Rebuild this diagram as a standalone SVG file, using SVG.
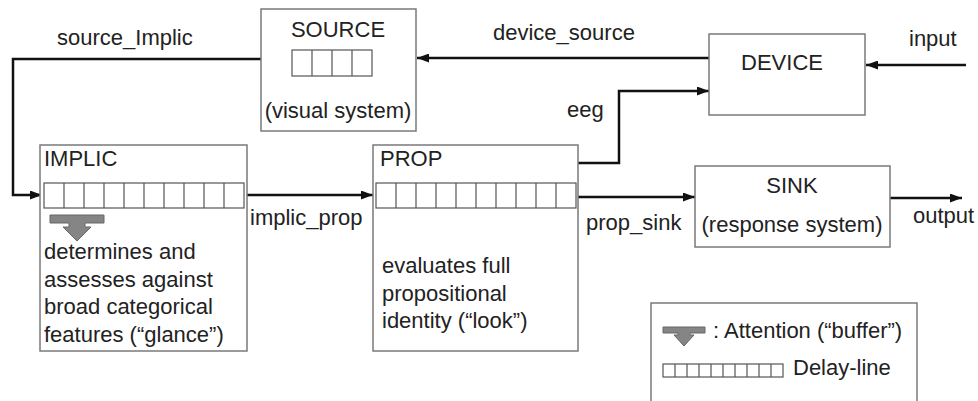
<svg xmlns="http://www.w3.org/2000/svg" width="978" height="401" viewBox="0 0 978 401">
<defs>
<style>
text{font-family:"Liberation Sans",Arial,sans-serif;font-size:22px;fill:#222}
.box{fill:#fff;stroke:#7a7a7a;stroke-width:1.5}
.cell{fill:#fff;stroke:#555;stroke-width:1.2}
.con{fill:none;stroke:#111;stroke-width:2.5}
.att{fill:#858585;stroke:#666;stroke-width:1}
</style>
<marker id="ah" markerUnits="userSpaceOnUse" markerWidth="12" markerHeight="9" refX="12" refY="4.5" orient="auto">
<path d="M0,0 L12,4.5 L0,9 z" fill="#111"/>
</marker>
<pattern id="dl20" x="0" y="0" width="20" height="25" patternUnits="userSpaceOnUse">
<path d="M0,0 V25" stroke="#555" stroke-width="1.2"/>
</pattern>
</defs>
<rect width="978" height="401" fill="#fff"/>

<g id="connectors">
<path class="con" d="M261,59 H13 V195 H42" marker-end="url(#ah)"/>
<path class="con" d="M709,58 H417" marker-end="url(#ah)"/>
<path class="con" d="M966,65 H866" marker-end="url(#ah)"/>
<path class="con" d="M578,163 H619 V91 H709" marker-end="url(#ah)"/>
<path class="con" d="M247,195 H373" marker-end="url(#ah)"/>
<path class="con" d="M578,197 H695" marker-end="url(#ah)"/>
<path class="con" d="M890,198 H962" marker-end="url(#ah)"/>
<text x="57" y="45">source_Implic</text>
<text x="493" y="40">device_source</text>
<text x="909" y="46">input</text>
<text x="567" y="117">eeg</text>
<text x="250" y="225">implic_prop</text>
<text x="586" y="230">prop_sink</text>
<text x="913" y="223">output</text>
</g>

<g id="source">
<rect class="box" x="261" y="9" width="155" height="122"/>
<text x="338" y="37" text-anchor="middle">SOURCE</text>
<rect class="cell" x="292" y="50" width="80" height="26"/>
<path d="M312,50 V76 M332,50 V76 M352,50 V76" stroke="#555" stroke-width="1.2"/>
<text x="338" y="118" text-anchor="middle">(visual system)</text>
</g>

<g id="device">
<rect class="box" x="709" y="34" width="156" height="81"/>
<text x="782" y="70" text-anchor="middle">DEVICE</text>
</g>

<g id="implic">
<rect class="box" x="40" y="145" width="207" height="206"/>
<text x="44" y="166">IMPLIC</text>
<rect class="cell" x="44" y="183" width="200" height="25"/>
<path d="M64,183V208M84,183V208M104,183V208M124,183V208M144,183V208M164,183V208M184,183V208M204,183V208M224,183V208" stroke="#555" stroke-width="1.2"/>
<path class="att" d="M50,215 H104 V223 H85 V227 H91 L77,241 L63,227 H69 V223 H50 z"/>
<text x="44" y="259">determines and</text>
<text x="44" y="287">assesses against</text>
<text x="44" y="314">broad categorical</text>
<text x="44" y="342">features (“glance”)</text>
</g>

<g id="prop">
<rect class="box" x="373" y="145" width="205" height="206"/>
<text x="380" y="166">PROP</text>
<rect class="cell" x="376" y="183" width="200" height="25"/>
<path d="M396,183V208M416,183V208M436,183V208M456,183V208M476,183V208M496,183V208M516,183V208M536,183V208M556,183V208" stroke="#555" stroke-width="1.2"/>
<text x="382" y="273">evaluates full</text>
<text x="382" y="301">propositional</text>
<text x="382" y="328">identity (“look”)</text>
</g>

<g id="sink">
<rect class="box" x="695" y="166" width="195" height="81"/>
<text x="792" y="193" text-anchor="middle">SINK</text>
<text x="792" y="232" text-anchor="middle">(response system)</text>
</g>

<g id="legend">
<rect class="box" x="651" y="303" width="266" height="102"/>
<path class="att" d="M663,327 H705 V333 H690 V335 H694 L684,346 L674,335 H678 V333 H663 z"/>
<text x="713" y="338">: Attention (“buffer”)</text>
<rect class="cell" x="663" y="364" width="120" height="13"/>
<path d="M675,364V377M687,364V377M699,364V377M711,364V377M723,364V377M735,364V377M747,364V377M759,364V377M771,364V377" stroke="#555" stroke-width="1.2"/>
<text x="793" y="375">Delay-line</text>
</g>
</svg>
